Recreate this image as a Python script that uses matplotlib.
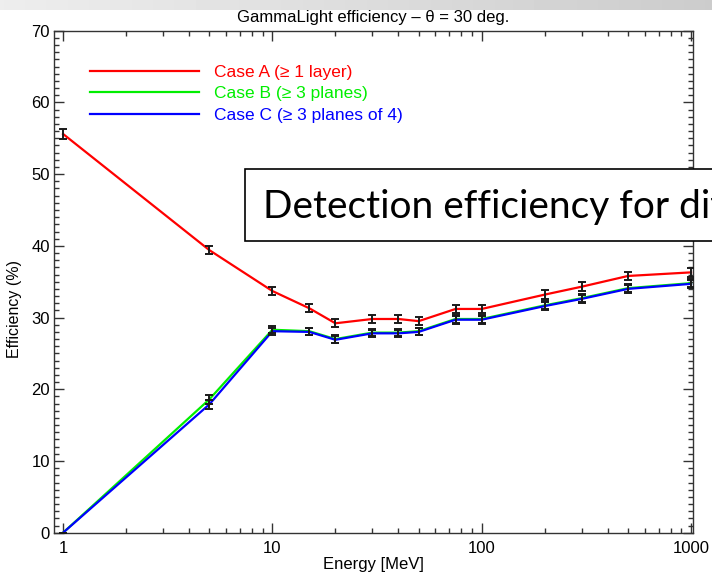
import numpy as np
import matplotlib.pyplot as plt
from matplotlib.patches import Rectangle
from matplotlib.ticker import MultipleLocator, FixedLocator, NullFormatter

# energies in MeV
energy = [1, 5, 10, 15, 20, 30, 40, 50, 75, 100, 200, 300, 500, 1000]

# efficiency (%)
case_a = [55.6, 39.4, 33.7, 31.3, 29.2, 29.8, 29.8, 29.5, 31.2, 31.2, 33.2, 34.3, 35.8, 36.3]
case_b = [0.0, 18.6, 28.3, 28.1, 27.0, 27.9, 27.9, 28.1, 29.8, 29.8, 31.7, 32.7, 34.1, 34.8]
case_c = [0.0, 17.9, 28.1, 28.0, 26.9, 27.8, 27.8, 28.0, 29.7, 29.7, 31.6, 32.6, 34.0, 34.7]

err_a = [0.7, 0.6, 0.55, 0.55, 0.55, 0.55, 0.55, 0.55, 0.55, 0.55, 0.6, 0.6, 0.6, 0.6]
err_b = [0.0, 0.6, 0.5, 0.5, 0.5, 0.5, 0.5, 0.5, 0.55, 0.55, 0.55, 0.55, 0.6, 0.6]
err_c = [0.0, 0.6, 0.5, 0.5, 0.5, 0.5, 0.5, 0.5, 0.55, 0.55, 0.55, 0.55, 0.6, 0.6]

labels = ["Case A (\u2265 1 layer)", "Case B (\u2265 3 planes)", "Case C (\u2265 3 planes of 4)"]
colors = ["#ff0000", "#00ee00", "#0000ff"]

plt.rcParams['font.family'] = ['Liberation Sans', 'DejaVu Sans']

fig = plt.figure(figsize=(7.12, 5.74), dpi=100)

# light grey slide strip at the very top
band = fig.add_axes([0, 1 - 10 / 574, 1, 10 / 574])
band.imshow([np.linspace(0.93, 0.80, 200)], aspect='auto', cmap='gray', vmin=0, vmax=1)
band.axis('off')

ax = fig.add_axes([54 / 712, 41.3 / 574, 639 / 712, 502 / 574])

# lines (green under blue, red on top)
ax.plot(energy, case_b, color=colors[1], lw=1.6, label=labels[1], zorder=2)
ax.plot(energy, case_c, color=colors[2], lw=1.6, label=labels[2], zorder=3)
ax.plot(energy, case_a, color=colors[0], lw=1.6, label=labels[0], zorder=4)

for vals, errs in [(case_b, err_b), (case_c, err_c), (case_a, err_a)]:
    ax.errorbar(energy, vals, yerr=errs, fmt='none', ecolor='#1a1a1a',
                elinewidth=1.4, capsize=3, capthick=1.4, zorder=5)

ax.set_xscale('log')
ax.set_xlim(0.905, 1022)
ax.set_ylim(0, 70)

ax.xaxis.set_major_locator(FixedLocator([1, 10, 100, 1000]))
ax.set_xticklabels(['1', '10', '100', '1000'])
minors = [m * d for d in [1, 10, 100] for m in range(2, 10)]
ax.xaxis.set_minor_locator(FixedLocator(minors))
ax.xaxis.set_minor_formatter(NullFormatter())
ax.yaxis.set_major_locator(MultipleLocator(10))
ax.yaxis.set_minor_locator(MultipleLocator(1))

ax.tick_params(which='both', direction='in', top=True, right=True,
               color='#333333', labelsize=12)
ax.tick_params(which='major', length=7, width=1)
ax.tick_params(which='minor', length=3.5, width=1)
ax.tick_params(axis='x', pad=6)
ax.tick_params(axis='y', pad=3)
for s in ax.spines.values():
    s.set_color('#333333')
    s.set_linewidth(1)

ax.set_title("GammaLight efficiency \u2013 \u03b8 = 30 deg.", fontsize=12, pad=6)
ax.set_xlabel("Energy [MeV]", fontsize=12, labelpad=1)
ax.set_ylabel("Efficiency (%)", fontsize=11.5)
ax.yaxis.set_label_coords(-0.05, 0.445)

# legend in IDL style: long line handles, coloured labels
h, l = ax.get_legend_handles_labels()
order = [2, 0, 1]
leg = ax.legend([h[i] for i in order], [l[i] for i in order],
                loc='upper left', bbox_to_anchor=(0.056, 0.932), frameon=False,
                fontsize=12.5, handlelength=6.3, handletextpad=0.85,
                labelspacing=0.36, borderpad=0, borderaxespad=0,
                labelcolor='linecolor')

# slide overlay box (runs off the right edge, as on the slide)
fig.patches.append(Rectangle((245 / 712, 1 - 241 / 574), 0.7, 72 / 574,
                             transform=fig.transFigure, facecolor='white',
                             edgecolor='black', lw=1.2, zorder=10))
fig.text(263 / 712, 1 - 207 / 574, "Detection efficiency for different",
         fontsize=28, family=['Lato', 'DejaVu Sans'], va='center', ha='left',
         zorder=11)

fig.savefig("out.png", dpi=100)
